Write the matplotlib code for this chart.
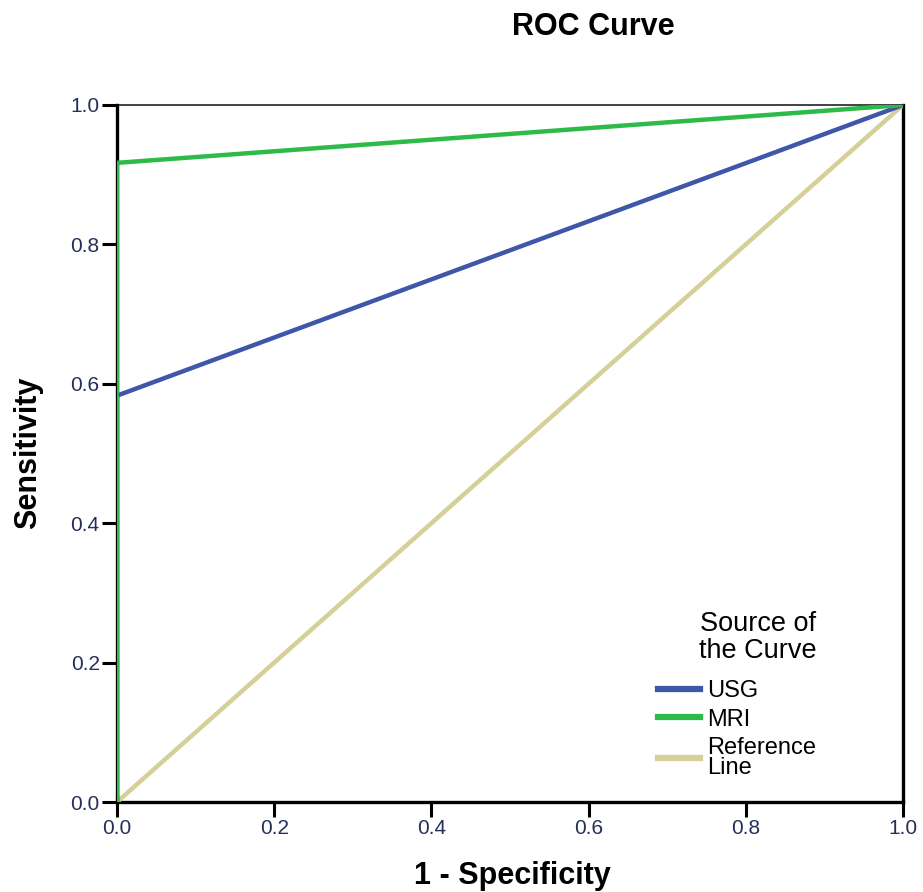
import matplotlib
matplotlib.use("Agg")
import matplotlib.pyplot as plt
from matplotlib.lines import Line2D

plt.rcParams['font.family'] = ['Liberation Sans', 'DejaVu Sans']

# Data
usg_x = [0.0, 0.0, 1.0]
usg_y = [0.0, 0.583, 1.0]
mri_x = [0.0, 0.0, 1.0]
mri_y = [0.0, 0.917, 1.0]
ref_x = [0.0, 1.0]
ref_y = [0.0, 1.0]
ticks = [0.0, 0.2, 0.4, 0.6, 0.8, 1.0]
tick_labels = ['0.0', '0.2', '0.4', '0.6', '0.8', '1.0']
series_names = ['USG', 'MRI', 'Reference\nLine']
colors = ['#3F57A8', '#2EBA48', '#D5CF98']

fig = plt.figure(figsize=(9.23, 8.92), dpi=100)
ax = fig.add_axes([117/923, 1-802/892, (903-117)/923, (802-105)/892])

ax.plot(ref_x, ref_y, color=colors[2], lw=3.2, solid_capstyle='butt', zorder=2)
ax.plot(usg_x, usg_y, color=colors[0], lw=3.2, solid_capstyle='butt', zorder=3)
ax.plot(mri_x, mri_y, color=colors[1], lw=3.2, solid_capstyle='butt', zorder=4)

ax.set_xlim(0, 1)
ax.set_ylim(0, 1)
ax.set_xticks(ticks)
ax.set_xticklabels(tick_labels)
ax.set_yticks(ticks)
ax.set_yticklabels(tick_labels)
ax.tick_params(direction='out', length=10.5, width=2.2, labelsize=15, colors='black', pad=2)
for lab in ax.get_xticklabels() + ax.get_yticklabels():
    lab.set_color('#25305A')

ax.spines['left'].set_linewidth(2.4)
ax.spines['bottom'].set_linewidth(2.4)
ax.spines['right'].set_linewidth(2.4)
ax.spines['top'].set_linewidth(1.3)
ax.spines['top'].set_color('#333333')
for s in ax.spines.values():
    s.set_zorder(1)
ax.spines['left'].set_zorder(3.5)

fig.text(512/923, 1-876/892, '1 - Specificity', fontsize=22, fontweight='bold',
         ha='center', va='center')
fig.text(28/923, 1-453/892, 'Sensitivity', fontsize=22, fontweight='bold',
         ha='center', va='center', rotation=90)
fig.text(593/923, 1-27/892, 'ROC Curve', fontsize=22, fontweight='bold',
         ha='center', va='center')

handles = [Line2D([0], [0], color=c, lw=4.5) for c in colors]
leg = ax.legend(handles, series_names, title='Source of\nthe Curve',
                loc='lower right', bbox_to_anchor=(0.905, 0.016),
                frameon=False, fontsize=17, title_fontsize=19.5, borderpad=0,
                handlelength=1.75, handletextpad=0.33, labelspacing=0.26)
leg._legend_box.align = 'right'
leg._legend_box.sep = 12
leg.get_title().set_multialignment('center')
leg.get_title().set_linespacing(1.05)
for t in leg.get_texts():
    t.set_linespacing(0.9)

fig.savefig('out.png', dpi=100)
